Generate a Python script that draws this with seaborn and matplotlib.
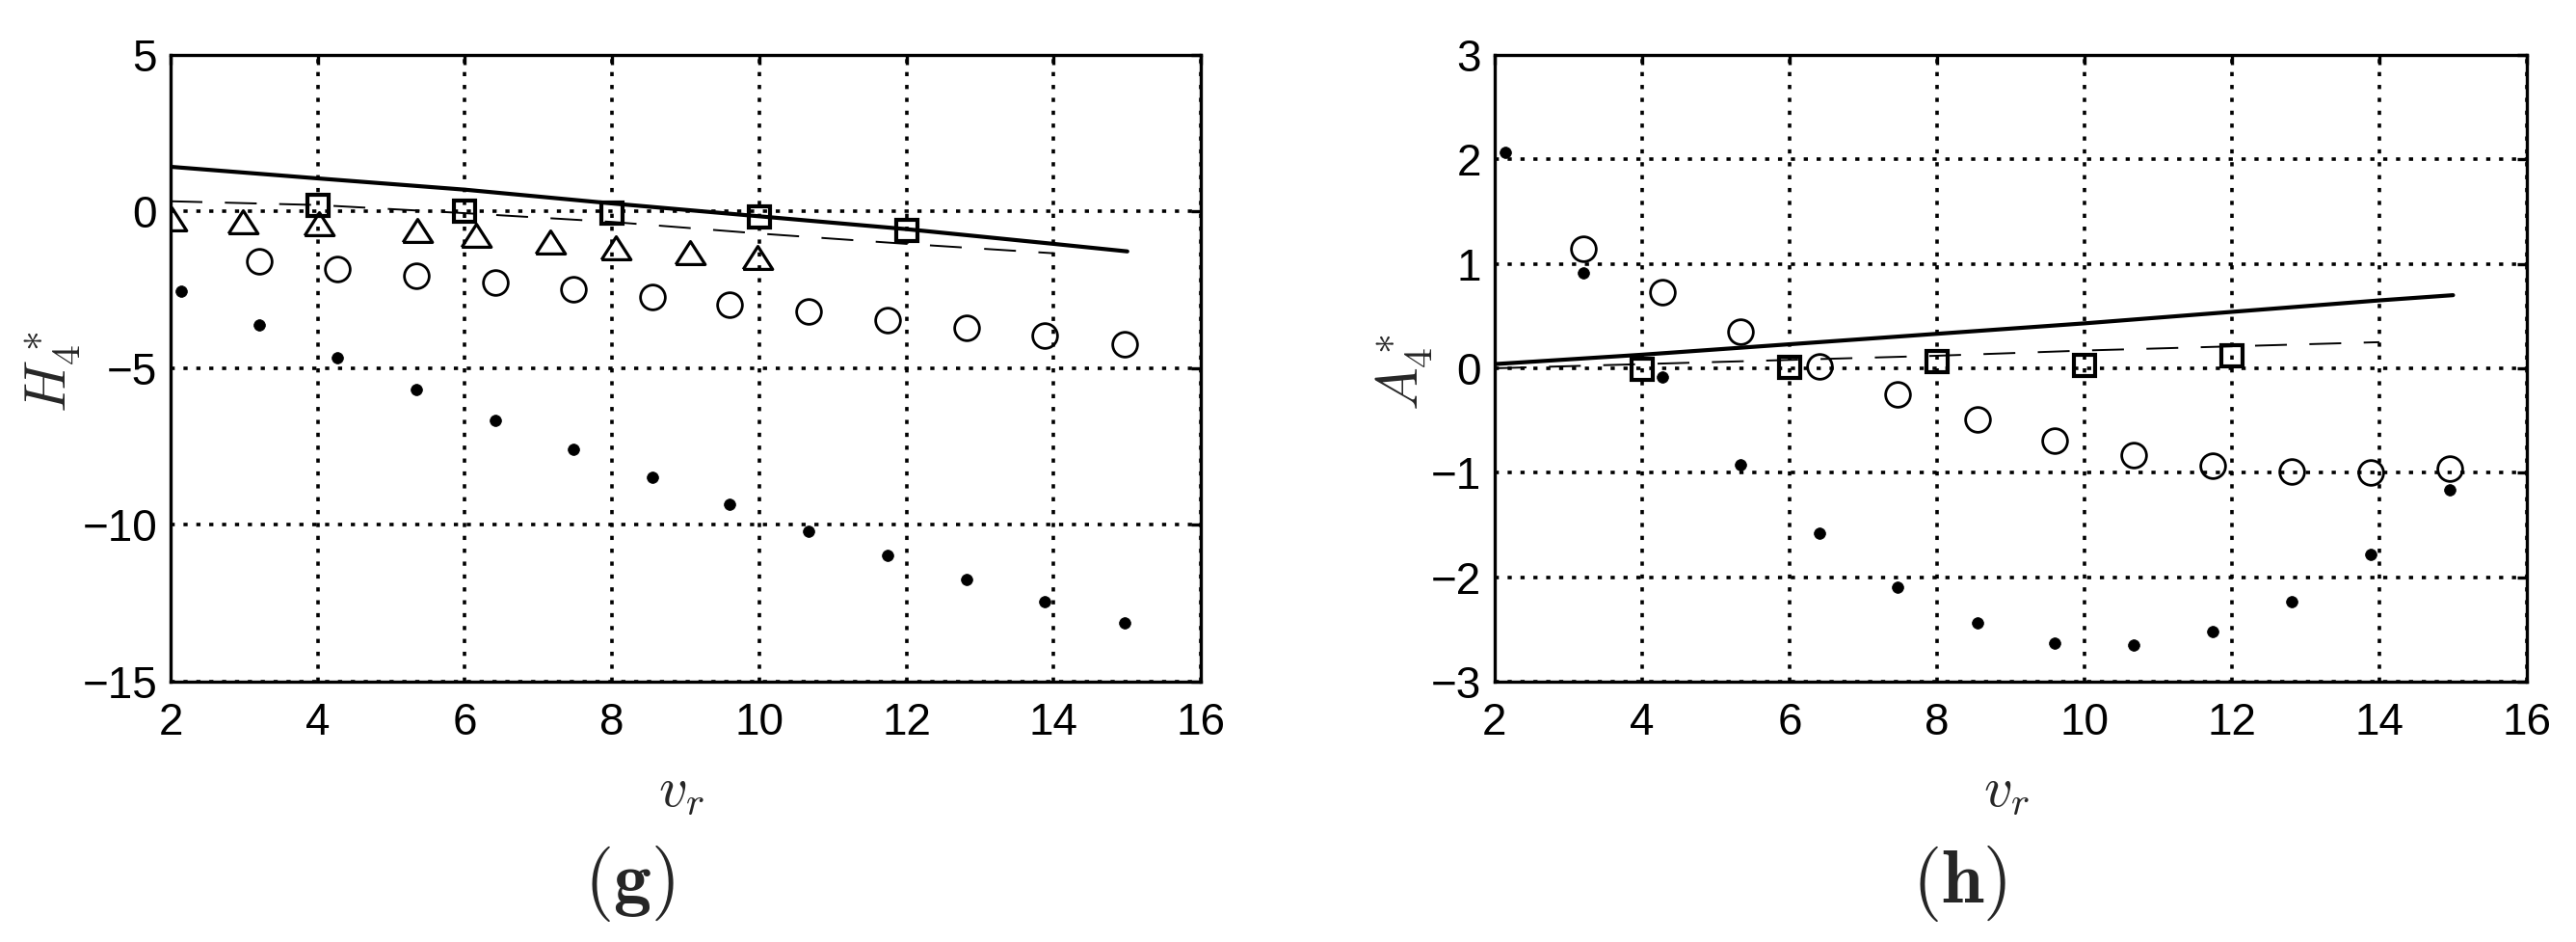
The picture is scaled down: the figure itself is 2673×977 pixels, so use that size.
import matplotlib
matplotlib.use("Agg")
import matplotlib.pyplot as plt
from matplotlib import font_manager
import seaborn as sns

# ---- data ----
line_x = [2, 4, 6, 8, 10, 12, 14, 15]
dash_x = [2, 4, 6, 8, 10, 12, 14]
sq_x = [4, 6, 8, 10, 12]
tri_x = [2.02, 2.98, 4.02, 5.35, 6.15, 7.16, 8.05, 9.06, 9.98]
circ_x = [3.20, 4.27, 5.34, 6.41, 7.47, 8.55, 9.60, 10.67, 11.74, 12.81, 13.88, 14.96]
dot_x = [2.14, 3.20, 4.27, 5.34, 6.41, 7.47, 8.55, 9.60, 10.67, 11.74, 12.81, 13.88, 14.96]

# H4*
h_solid = [1.43, 1.06, 0.70, 0.26, -0.15, -0.56, -1.03, -1.27]
h_dash = [0.33, 0.21, -0.05, -0.33, -0.70, -1.03, -1.33]
h_sq = [0.20, 0.01, -0.04, -0.17, -0.59]
h_tri = [-0.24, -0.33, -0.40, -0.60, -0.75, -0.97, -1.16, -1.31, -1.47]
h_circ = [-1.60, -1.82, -2.04, -2.26, -2.48, -2.72, -2.96, -3.20, -3.45, -3.72, -3.97, -4.24]
h_dot = [-2.53, -3.61, -4.67, -5.68, -6.65, -7.58, -8.49, -9.35, -10.19, -10.96, -11.73, -12.45, -13.13]

# A4*
a_solid = [0.04, 0.13, 0.23, 0.33, 0.43, 0.54, 0.65, 0.70]
a_dash = [0.00, 0.04, 0.08, 0.12, 0.17, 0.21, 0.25]
a_sq = [-0.01, 0.01, 0.06, 0.03, 0.12]
a_circ = [1.14, 0.73, 0.35, 0.02, -0.25, -0.49, -0.69, -0.83, -0.93, -0.99, -1.00, -0.96]
a_dot = [2.07, 0.91, -0.08, -0.92, -1.58, -2.10, -2.44, -2.63, -2.65, -2.52, -2.23, -1.78, -1.16]

sns.set_style("white")
names = {f.name for f in font_manager.fontManager.ttflist}
if 'Liberation Sans Narrow' in names:
    tick_font, tick_size = 'Liberation Sans Narrow', 35
else:
    tick_font, tick_size = 'Liberation Sans', 33
plt.rcParams['font.family'] = [tick_font, 'DejaVu Sans']
plt.rcParams['mathtext.fontset'] = 'cm'
plt.rcParams['axes.unicode_minus'] = True

fig = plt.figure(figsize=(26.73, 9.77), dpi=100)
ax1 = fig.add_axes([0.0662, 0.2764, 0.4000, 0.6653])
ax2 = fig.add_axes([0.5802, 0.2764, 0.4007, 0.6653])

wide_tri = [(-1, -0.78), (1, -0.78), (0, 0.78), (-1, -0.78)]


def markers(ax, x, y, marker, size, mew, fill='none'):
    sns.lineplot(x=x, y=y, ax=ax, color='k', linestyle='', marker=marker,
                 markersize=size, mfc=fill, mec='k', mew=mew, zorder=4)


def style_axes(ax, ylim, yticks, ylabel, ylab_x):
    ax.set_xlim(2, 16)
    ax.set_ylim(*ylim)
    ax.set_xticks(range(2, 17, 2))
    ax.set_yticks(yticks)
    ax.grid(True, color='k', linestyle=(0, (1.2, 2.5)), linewidth=2.6)
    ax.set_axisbelow(True)
    for sp in ax.spines.values():
        sp.set_visible(True)
        sp.set_color('k')
        sp.set_linewidth(2.4)
    ax.tick_params(direction='in', length=7, width=2.4, top=True, right=True,
                   labelsize=tick_size, colors='k')
    ax.tick_params(axis='x', pad=15)
    ax.tick_params(axis='y', pad=10)
    ax.set_xlabel(r'$v_r$', fontsize=42, va='center')
    ax.xaxis.set_label_coords(0.496, -0.175)
    ax.set_ylabel(ylabel, fontsize=43, va='center')
    ax.yaxis.set_label_coords(ylab_x, 0.494)


# left panel
sns.lineplot(x=line_x, y=h_solid, ax=ax1, color='k', lw=3.0, zorder=3)
sns.lineplot(x=dash_x, y=h_dash, ax=ax1, color='k', lw=1.4,
             linestyle=(0, (17, 12)), zorder=3)
markers(ax1, sq_x, h_sq, 's', 16.5, 3.0)
markers(ax1, tri_x, h_tri, wide_tri, 22, 2.3)
markers(ax1, circ_x, h_circ, 'o', 18.5, 2.0)
markers(ax1, dot_x, h_dot, 'o', 8.5, 0.5, fill='k')
style_axes(ax1, (-15, 5), range(-15, 6, 5), r'$H_4^*$', -0.114)

# right panel
sns.lineplot(x=line_x, y=a_solid, ax=ax2, color='k', lw=3.0, zorder=3)
sns.lineplot(x=dash_x, y=a_dash, ax=ax2, color='k', lw=1.4,
             linestyle=(0, (17, 12)), zorder=3)
markers(ax2, sq_x, a_sq, 's', 16.5, 3.0)
markers(ax2, circ_x, a_circ, 'o', 18.5, 2.0)
markers(ax2, dot_x, a_dot, 'o', 8.5, 0.5, fill='k')
style_axes(ax2, (-3, 3), range(-3, 4), r'$A_4^*$', -0.087)

fig.text(653 / 2673, 1 - 916 / 977, r'$\mathbf{(g)}$', fontsize=56,
         ha='center', va='center')
fig.text(2033 / 2673, 1 - 916 / 977, r'$\mathbf{(h)}$', fontsize=56,
         ha='center', va='center')

fig.savefig('out.png', dpi=100, facecolor='white')
